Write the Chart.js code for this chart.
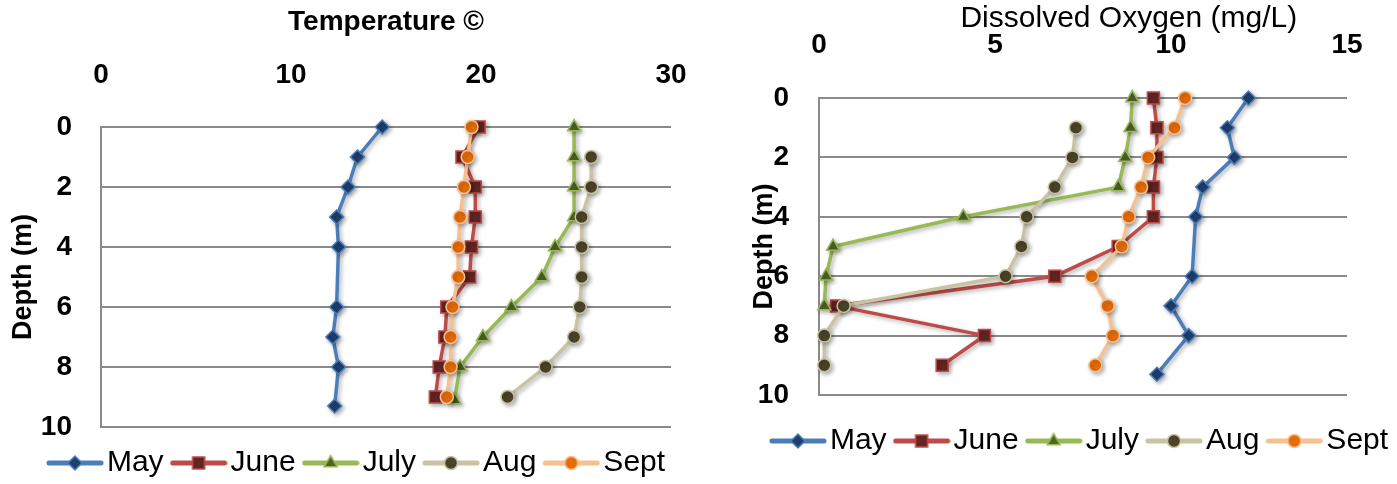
<!DOCTYPE html>
<html>
<head>
<meta charset="utf-8">
<script src="https://cdn.jsdelivr.net/npm/chart.js@4.4.1/dist/chart.umd.min.js"></script>
<style>
  html, body { margin: 0; padding: 0; background: #fff; overflow: hidden; width: 1397px; height: 484px; }
  #tempChart { position: absolute; left: 0; top: 0; }
  #doChart { position: absolute; left: 733px; top: 0; }
</style>
</head>
<body>
<canvas id="tempChart" width="723" height="488"></canvas>
<canvas id="doChart" width="703" height="466"></canvas>
<script>
const seriesNames = ["May", "June", "July", "Aug", "Sept"];
const depthTicks = [0, 2, 4, 6, 8, 10];
const tempTicks = [0, 10, 20, 30];
const doTicks = [0, 5, 10, 15];

// temperature profiles (depth in m, temperature)
const mayTempDepth = [0, 1, 2, 3, 4, 6, 7, 8, 9.3];
const mayTemp = [14.8, 13.5, 13.0, 12.4, 12.5, 12.4, 12.2, 12.5, 12.3];
const juneTempDepth = [0, 1, 2, 3, 4, 5, 6, 7, 8, 9];
const juneTemp = [19.9, 19.0, 19.7, 19.7, 19.5, 19.4, 18.2, 18.1, 17.8, 17.6];
const julyTempDepth = [0, 1, 2, 3, 4, 5, 6, 7, 8, 9.1];
const julyTemp = [24.9, 24.9, 24.9, 24.9, 23.9, 23.2, 21.6, 20.1, 18.9, 18.6];
const augTempDepth = [1, 2, 3, 4, 5, 6, 7, 8, 9];
const augTemp = [25.8, 25.8, 25.3, 25.3, 25.3, 25.2, 24.9, 23.4, 21.4];
const septTempDepth = [0, 1, 2, 3, 4, 5, 6, 7, 8, 9];
const septTemp = [19.5, 19.3, 19.1, 18.9, 18.8, 18.8, 18.5, 18.4, 18.4, 18.2];

// dissolved oxygen profiles (depth in m, mg/L)
const mayDoDepth = [0, 1, 2, 3, 4, 6, 7, 8, 9.3];
const mayDo = [12.2, 11.6, 11.8, 10.9, 10.7, 10.6, 10.0, 10.5, 9.6];
const juneDoDepth = [0, 1, 2, 3, 4, 5, 6, 7, 8, 9];
const juneDo = [9.5, 9.6, 9.6, 9.5, 9.5, 8.5, 6.7, 0.5, 4.7, 3.5];
const julyDoDepth = [0, 1, 2, 3, 4, 5, 6, 7];
const julyDo = [8.9, 8.85, 8.7, 8.5, 4.1, 0.4, 0.2, 0.15];
const augDoDepth = [1, 2, 3, 4, 5, 6, 7, 8, 9];
const augDo = [7.3, 7.2, 6.7, 5.9, 5.75, 5.3, 0.7, 0.15, 0.15];
const septDoDepth = [0, 1, 2, 3, 4, 5, 6, 7, 8, 9];
const septDo = [10.4, 10.1, 9.35, 9.15, 8.8, 8.6, 7.75, 8.2, 8.35, 7.85];

const FONT = "'Liberation Sans', Arial, sans-serif";
const styles = [
  { line: "#4A7EBB", fill: "#1F3F6E", shape: "rectRot", r: 7 },
  { line: "#BE4B48", fill: "#632523", shape: "rect", r: 8.5 },
  { line: "#98B954", fill: "#4F6228", shape: "triangle", r: 7.5 },
  { line: "#C9C3A2", fill: "#494429", shape: "circle", r: 6.5 },
  { line: "#F9C08F", fill: "#E46C0A", shape: "circle", r: 6.5 },
];

// little line+marker pictures for the legend, excel style
const icons = styles.map((s) => {
  const c = document.createElement("canvas");
  c.width = 58;
  c.height = 18;
  const ctx = c.getContext("2d");
  ctx.strokeStyle = s.line;
  ctx.lineWidth = 5;
  ctx.lineCap = "round";
  ctx.beginPath();
  ctx.moveTo(3, 9);
  ctx.lineTo(55, 9);
  ctx.stroke();
  ctx.fillStyle = s.fill;
  ctx.strokeStyle = s.line;
  ctx.lineWidth = 1.5;
  Chart.helpers.drawPoint(ctx, { pointStyle: s.shape, radius: s.r, borderWidth: 1.5, rotation: 0 }, 29, 9);
  return c;
});

// soft grey shadow under the series, like the office original
const shadowPlugin = {
  id: "seriesShadow",
  beforeDatasetsDraw(chart) {
    const ctx = chart.ctx;
    ctx.save();
    ctx.shadowColor = "rgba(0,0,0,0.3)";
    ctx.shadowBlur = 4;
    ctx.shadowOffsetX = 2;
    ctx.shadowOffsetY = 2;
  },
  afterDatasetsDraw(chart) {
    chart.ctx.restore();
  },
};

function makeDataset(i, depths, values) {
  const s = styles[i];
  return {
    label: seriesNames[i],
    data: depths.map((d, k) => ({ x: values[k], y: d })),
    borderColor: s.line,
    backgroundColor: s.fill,
    borderWidth: 3.5,
    pointStyle: s.shape,
    pointRadius: s.r,
    pointHoverRadius: s.r,
    pointBackgroundColor: s.fill,
    pointBorderColor: s.line,
    pointBorderWidth: 1.5,
    tension: 0,
    clip: false,
    order: 5 - i, // later months drawn on top
  };
}

function buildChart(id, cfg) {
  const tickFont = { family: FONT, size: 28, weight: "bold" };
  return new Chart(document.getElementById(id), {
    type: "line",
    data: { datasets: cfg.datasets },
    plugins: [shadowPlugin],
    options: {
      responsive: false,
      animation: false,
      layout: { padding: 0 },
      plugins: {
        tooltip: { enabled: false },
        legend: {
          position: "bottom",
          labels: {
            usePointStyle: true,
            pointStyleWidth: 34,
            padding: 18,
            color: "#000",
            font: { family: FONT, size: 30 },
            generateLabels(chart) {
              const items = Chart.defaults.plugins.legend.labels.generateLabels(chart);
              items.forEach((it) => { it.pointStyle = icons[it.datasetIndex]; });
              return items.sort((a, b) => a.datasetIndex - b.datasetIndex);
            },
          },
        },
      },
      scales: {
        x: {
          type: "linear",
          position: "top",
          min: 0,
          max: cfg.xTicks[cfg.xTicks.length - 1],
          afterBuildTicks(s) { s.ticks = cfg.xTicks.map((v) => ({ value: v })); },
          ticks: { padding: cfg.xTickPad, font: tickFont, color: "#000", maxRotation: 0 },
          grid: { display: false, drawTicks: false },
          border: { display: false },
          title: { display: true, text: cfg.xTitle, color: "#000", font: cfg.xTitleFont, padding: { top: cfg.xTitlePad, bottom: 0 } },
          afterFit(s) { s.height = cfg.xAxisHeight; },
        },
        y: {
          type: "linear",
          position: "left",
          reverse: true,
          min: 0,
          max: 10,
          afterBuildTicks(s) { s.ticks = depthTicks.map((v) => ({ value: v })); },
          ticks: { padding: cfg.yTickPad, font: tickFont, color: "#000" },
          grid: { color: "#8A8A8A", lineWidth: 2, drawTicks: false },
          border: { display: true, color: "#8A8A8A", width: 2 },
          title: { display: true, text: "Depth (m)", color: "#000", font: { family: FONT, size: 27, weight: "bold" }, padding: { top: cfg.yTitlePad, bottom: 0 } },
          afterFit(s) { s.width = cfg.yAxisWidth; },
        },
        ySpace: {
          type: "linear",
          position: "right",
          ticks: { display: false },
          grid: { display: false, drawTicks: false },
          border: { display: false },
          afterFit(s) { s.width = cfg.rightSpace; },
        },
        xSpace: {
          type: "linear",
          position: "bottom",
          ticks: { display: false },
          grid: { display: false, drawTicks: false },
          border: { display: false },
          afterFit(s) { s.height = cfg.bottomSpace; },
        },
      },
    },
  });
}

buildChart("tempChart", {
  datasets: [
    makeDataset(0, mayTempDepth, mayTemp),
    makeDataset(1, juneTempDepth, juneTemp),
    makeDataset(2, julyTempDepth, julyTemp),
    makeDataset(3, augTempDepth, augTemp),
    makeDataset(4, septTempDepth, septTemp),
  ],
  xTicks: tempTicks,
  xTitle: "Temperature \u00A9",
  xTitleFont: { family: FONT, size: 28, weight: "bold" },
  xTitlePad: 5,
  xTickPad: 35,
  xAxisHeight: 127,
  yTickPad: 29,
  yTitlePad: 7,
  yAxisWidth: 101,
  rightSpace: 52,
  bottomSpace: 3,
});

buildChart("doChart", {
  datasets: [
    makeDataset(0, mayDoDepth, mayDo),
    makeDataset(1, juneDoDepth, juneDo),
    makeDataset(2, julyDoDepth, julyDo),
    makeDataset(3, augDoDepth, augDo),
    makeDataset(4, septDoDepth, septDo),
  ],
  xTicks: doTicks,
  xTitle: "           Dissolved Oxygen (mg/L)",
  xTitleFont: { family: FONT, size: 30 },
  xTitlePad: 1,
  xTickPad: 36,
  xAxisHeight: 98,
  yTickPad: 30,
  yTitlePad: 15,
  yAxisWidth: 86,
  rightSpace: 89,
  bottomSpace: 13,
});
</script>
</body>
</html>
